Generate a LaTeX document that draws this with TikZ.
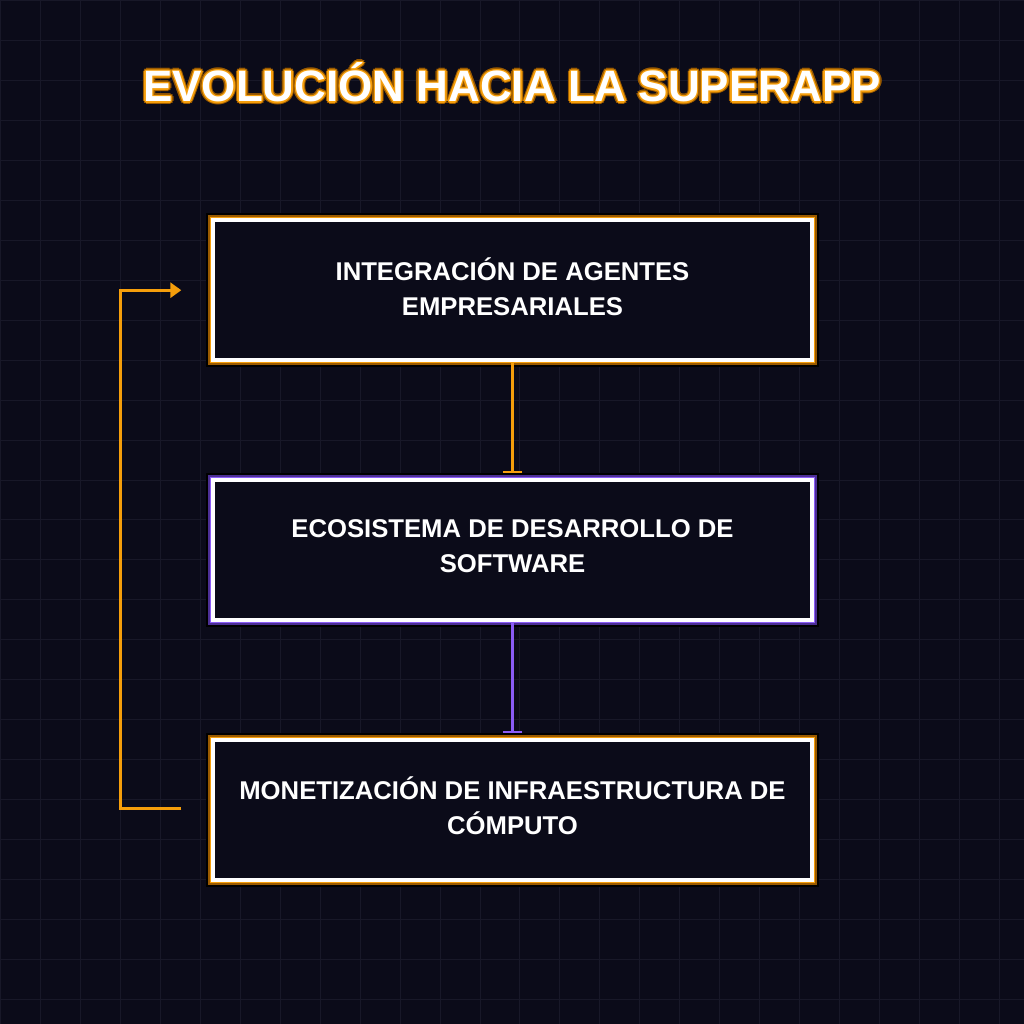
\documentclass[tikz,border=0pt]{standalone}
\usepackage{fontspec}
\setmainfont{Liberation Sans}
\usetikzlibrary{arrows.meta}
\definecolor{bg}{HTML}{0B0B19}
\definecolor{gridc}{HTML}{181828}
\definecolor{org}{HTML}{F59E0B}
\definecolor{orgd}{HTML}{9A5A00}
\definecolor{pur}{HTML}{8B5CF6}
\definecolor{purd}{HTML}{4C2F94}
\tikzset{
 card/.style={draw=white,line width=4pt,fill=bg,minimum width=599pt,minimum height=140pt,
   text=white,font=\bfseries\fontsize{25.7}{35}\selectfont,align=center},
 link/.style={line width=3pt},
 ttlfont/.style={font=\bfseries\fontsize{44}{50}\selectfont},
}
\begin{document}
\begin{tikzpicture}[x=1pt,y=-1pt]
\fill[bg] (0,0) rectangle (1024,1024);
\foreach \i in {0,40,...,1000}{\draw[gridc,line width=1pt] (\i,0)--(\i,1024) (0,\i)--(1024,\i);}
\foreach \y/\c/\d in {290/org/orgd,550/pur/purd,810/org/orgd}{
 \fill[black] (206,\y-77) rectangle (819,\y+77);
 \fill[\d] (208,\y-75) rectangle (817,\y+75);
 \fill[\c] (210,\y-73) rectangle (815,\y+73);
}
\node[card] (a) at (512.5,290) {INTEGRACIÓN DE AGENTES\\EMPRESARIALES\\[-27pt]};
\node[card] (b) at (512.5,550) {ECOSISTEMA DE DESARROLLO DE\\SOFTWARE\\[-27pt]};
\node[card] (c) at (512.5,810) {MONETIZACIÓN DE INFRAESTRUCTURA DE\\CÓMPUTO\\[-27pt]};
\draw[link,org,-{Bar[width=20pt,line width=2pt]}] (a.south) -- ([yshift=5pt]b.north);
\draw[link,pur,-{Bar[width=20pt,line width=2pt]}] (b.south) -- ([yshift=5pt]c.north);
\coordinate (cl) at (181,809);
\coordinate (al) at (181,290);
\draw[link,org,-{Triangle[length=11pt,width=15pt]}] (cl) -- (120,809) -- (120,290) -- (al);
\def\ttl{EVOLUCIÓN HACIA LA SUPERAPP}
\foreach \dx/\dy in {-3/0,3/0,0/-3,0/3,-2/-2,2/2,-2/2,2/-2}{
 \node[text=orgd,ttlfont] at (512+\dx,82+\dy) {\ttl};}
\foreach \dx/\dy in {-1.5/0,1.5/0,0/-1.5,0/1.5,-1/-1,1/1,-1/1,1/-1}{
 \node[text=org,ttlfont] at (512+\dx,82+\dy) {\ttl};}
\node[text=white,ttlfont] (t) at (512,82) {\ttl};
\end{tikzpicture}
\end{document}
